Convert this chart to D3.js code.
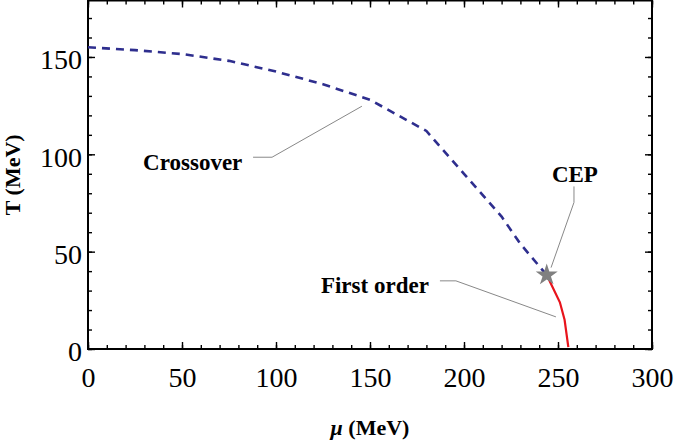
<!DOCTYPE html>
<html><head><meta charset="utf-8">
<script src="https://cdn.jsdelivr.net/npm/d3@7"></script>
<style>body{margin:0;background:#fff}svg{display:block}</style>
</head><body>
<svg id="c" width="675" height="440"></svg>
<script>
// Data (μ in MeV, T in MeV)
const crossoverMu = [0, 25, 50, 75, 100, 125, 150, 180, 200, 220, 230, 244];
const crossoverT  = [155, 153.5, 151.5, 148, 142.5, 136, 128, 112, 90, 68, 54, 38];
const firstOrderMu = [244, 246.5, 251, 253.5, 255.5];
const firstOrderT  = [38, 33, 24, 15, 1];
const cepMu = [244];
const cepT = [38];
const xTicks = [0, 50, 100, 150, 200, 250, 300];
const yTicks = [0, 50, 100, 150];
const labels = ["Crossover", "CEP", "First order"];

const W = 675, H = 440;
const m = {l: 88, r: 23, t: 0.5, b: 91};
const svg = d3.select("#c");
const x = d3.scaleLinear().domain([0, 300]).range([m.l, W - m.r]);
const y = d3.scaleLinear().domain([0, 179]).range([H - m.b, m.t]);
const font = "'Liberation Serif','Times New Roman',serif";

const minorX = d3.range(0, 301, 10), minorY = d3.range(0, 180, 10);
function ax(gen, tr, vals, size, fmt) {
  const g = svg.append("g").attr("transform", tr)
    .call(gen.tickValues(vals).tickSize(size).tickPadding(18).tickFormat(fmt));
  g.select(".domain").remove();
  g.selectAll("line").attr("stroke", "#000").attr("stroke-width", 1.4);
  g.selectAll("text").attr("font-family", font).attr("font-size", 28).attr("fill", "#000");
  return g;
}
const B = H - m.b, R = W - m.r;
ax(d3.axisBottom(x), `translate(0,${B})`, minorX, -4, () => "");
ax(d3.axisTop(x), `translate(0,${m.t})`, minorX, -4, () => "");
ax(d3.axisLeft(y), `translate(${m.l},0)`, minorY, -4, () => "");
ax(d3.axisRight(y), `translate(${R},0)`, minorY, -4, () => "");
const gx = ax(d3.axisBottom(x), `translate(0,${B})`, xTicks, -7, d3.format("d"));
gx.selectAll("text").attr("dy", "0.71em");
ax(d3.axisTop(x), `translate(0,${m.t})`, xTicks, -7, () => "");
const gy = ax(d3.axisLeft(y), `translate(${m.l},0)`, yTicks, -7, d3.format("d"));
gy.selectAll("text").attr("x", -6).attr("dy", "0.42em");
ax(d3.axisRight(y), `translate(${R},0)`, yTicks, -7, () => "");

// frame
svg.append("rect").attr("x", m.l).attr("y", m.t).attr("width", R - m.l).attr("height", B - m.t)
  .attr("fill", "none").attr("stroke", "#000").attr("stroke-width", 2);

const line = d3.line().x(d => x(d[0])).y(d => y(d[1]));
svg.append("path").datum(crossoverMu.map((v, i) => [v, crossoverT[i]]))
  .attr("d", line).attr("fill", "none").attr("stroke", "#2e2e8e")
  .attr("stroke-width", 2.6).attr("stroke-dasharray", "8,6");
svg.append("path").datum(firstOrderMu.map((v, i) => [v, firstOrderT[i]]))
  .attr("d", line).attr("fill", "none").attr("stroke", "#e8141c").attr("stroke-width", 2.2);

// annotation leader lines (data coordinates)
const leaders = [
  [[87.8, 98.5], [97.9, 98.5], [145.7, 124.7]],
  [[258.5, 83.5], [258.5, 75.3], [246.3, 41.8]],
  [[187.2, 35], [195.7, 35], [248.9, 16.5]]
];
leaders.forEach(p => svg.append("path").datum(p).attr("d", line)
  .attr("fill", "none").attr("stroke", "#888").attr("stroke-width", 1));

// CEP star
svg.selectAll(".star").data(cepMu).enter().append("path")
  .attr("d", d3.symbol(d3.symbolStar, 150))
  .attr("transform", (d, i) => `translate(${x(d)},${y(cepT[i])})`)
  .attr("fill", "#808080");

// annotation texts
const labPos = [[29.3, 92, "start"], [259, 85.6, "middle"], [123.9, 28.9, "start"]];
labels.forEach((t, i) => svg.append("text").attr("x", x(labPos[i][0])).attr("y", y(labPos[i][1]))
  .attr("text-anchor", labPos[i][2]).attr("font-family", font).attr("font-weight", "bold")
  .attr("font-size", 23).text(t));

// axis titles
svg.append("text").attr("transform", `translate(20,${(m.t + B) / 2}) rotate(-90)`)
  .attr("text-anchor", "middle").attr("font-family", font).attr("font-weight", "bold")
  .attr("font-size", 22).text("T (MeV)");
const xt = svg.append("text").attr("x", (m.l + R) / 2).attr("y", 435).attr("text-anchor", "middle")
  .attr("font-family", font).attr("font-weight", "bold").attr("font-size", 22);
xt.append("tspan").attr("font-style", "italic").text("μ");
xt.append("tspan").text(" (MeV)");
</script>
</body></html>
